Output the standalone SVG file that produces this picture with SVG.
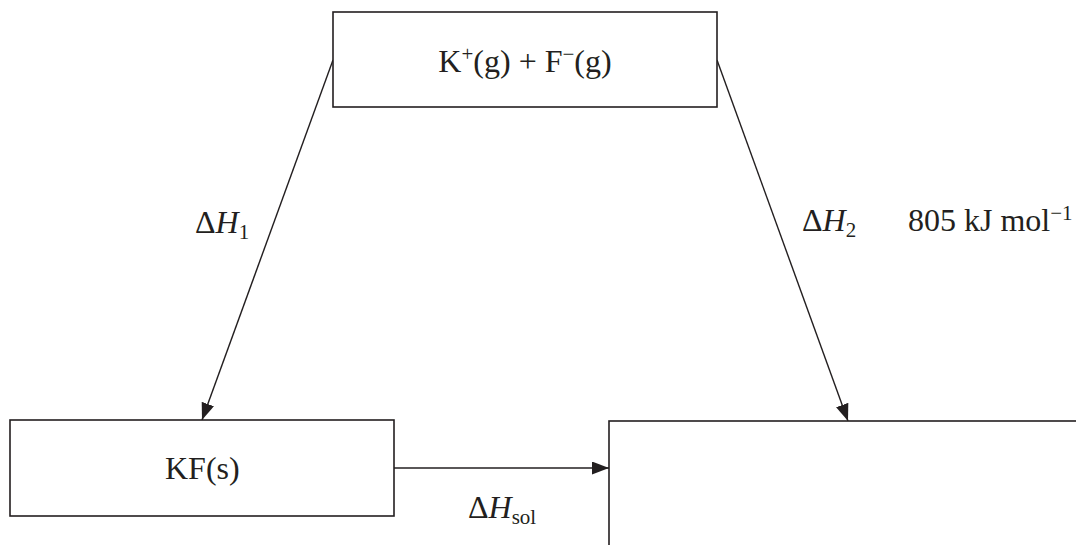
<svg xmlns="http://www.w3.org/2000/svg" width="1076" height="545" viewBox="0 0 1076 545">
<style>
.box{fill:#fff;stroke:#231f20;stroke-width:1.6}
.conn{stroke:#231f20;stroke-width:1.4;fill:none}
text{font-family:"Liberation Serif","Times New Roman",serif;font-size:32px;fill:#231f20}
.it{font-style:italic}
.sub{font-size:21px}
</style>
<defs>
<marker id="ah" markerUnits="userSpaceOnUse" markerWidth="18" markerHeight="14" refX="17" refY="6.5" orient="auto">
<path d="M0,0 L17,6.5 L0,13 z" fill="#231f20"/>
</marker>
</defs>
<g id="connectors">
<line class="conn" x1="333" y1="60" x2="202" y2="420" marker-end="url(#ah)"/>
<line class="conn" x1="717" y1="60" x2="848" y2="421" marker-end="url(#ah)"/>
<line class="conn" x1="394" y1="468" x2="609" y2="468" marker-end="url(#ah)"/>
</g>
<g id="node-gas">
<rect class="box" x="333" y="12" width="384" height="95"/>
<text x="525" y="72" text-anchor="middle">K<tspan class="sub" dy="-11">+</tspan><tspan dy="11">(g) + F</tspan><tspan class="sub" dy="-11">−</tspan><tspan dy="11">(g)</tspan></text>
</g>
<g id="node-solid">
<rect class="box" x="10" y="420" width="384" height="96"/>
<text x="165" y="479">KF(s)</text>
</g>
<g id="node-aq">
<rect class="box" x="609" y="421" width="500" height="200"/>
</g>
<g id="labels">
<text x="195" y="233">Δ<tspan class="it">H</tspan><tspan class="sub" dy="6">1</tspan></text>
<text x="802" y="231">Δ<tspan class="it">H</tspan><tspan class="sub" dy="6">2</tspan></text>
<text x="908" y="231">805 kJ mol<tspan class="sub" dy="-11">−1</tspan></text>
<text x="468" y="518">Δ<tspan class="it">H</tspan><tspan class="sub" dy="6">sol</tspan></text>
</g>
</svg>
